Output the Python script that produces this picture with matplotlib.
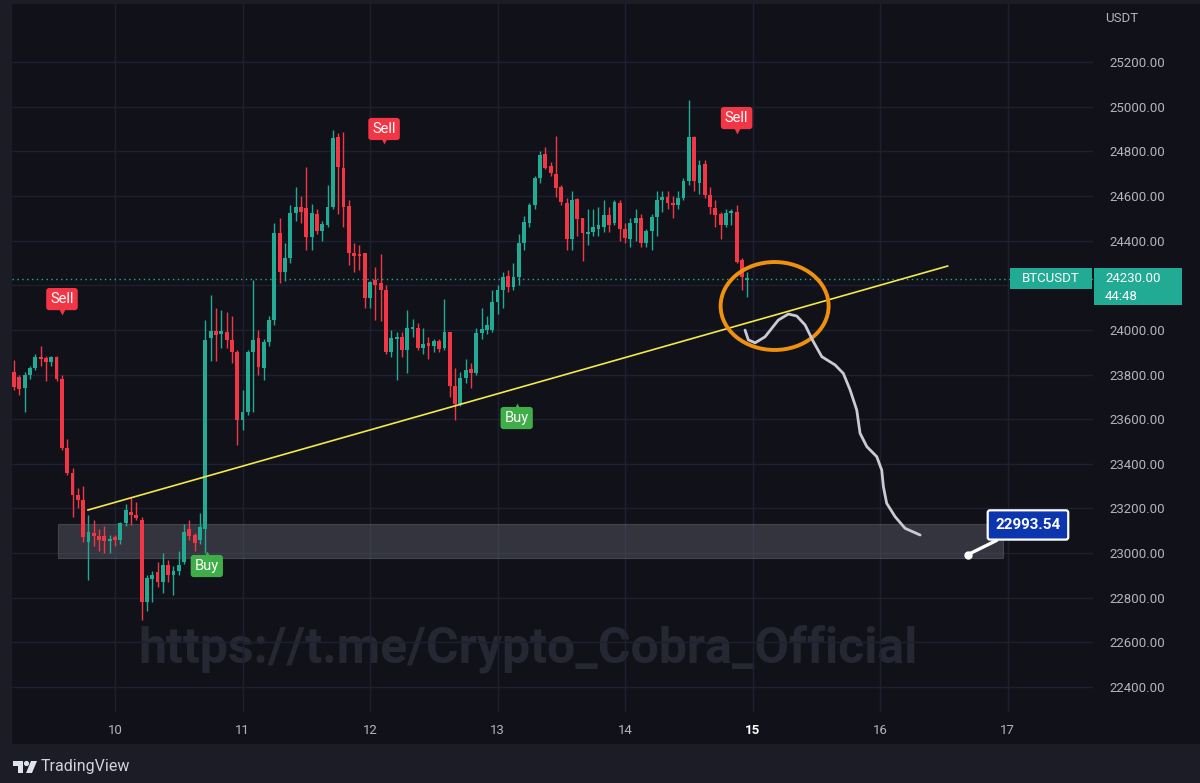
import numpy as np
import matplotlib.pyplot as plt
from matplotlib.patches import Ellipse, Rectangle, Polygon, Circle
from matplotlib.transforms import blended_transform_factory

plt.rcParams['font.family'] = ['Roboto', 'DejaVu Sans']

# hourly candles, 9th 05:00 .. 14th 23:00
opens = [23810, 23790, 23740, 23800, 23830, 23880, 23875, 23855, 23880, 23780,
         23470, 23360, 23260, 23240, 23050, 23090, 23075, 23075, 23055, 23070,
         23060, 23135, 23185, 23170, 23150, 22780, 22885, 22915, 22870, 22945,
         22900, 22920, 22960, 23110, 23080, 23060, 23110, 23965, 23995, 23980,
         23990, 23955, 23900, 23595, 23630, 23900, 23965, 23830, 23945, 24045,
         24435, 24260, 24320, 24525, 24550, 24545, 24415, 24520, 24445, 24470,
         24550, 24865, 24725, 24555, 24345, 24340, 24345, 24145, 24225, 24210,
         24180, 23900, 23960, 23970, 23910, 24005, 24010, 23920, 23940, 23930,
         23950, 23920, 23990, 23750, 23670, 23785, 23825, 23805, 23985, 24000,
         24000, 24125, 24180, 24240, 24190, 24235, 24390, 24480, 24560, 24680,
         24790, 24735, 24700, 24640, 24570, 24405, 24585, 24500, 24430, 24440,
         24450, 24460, 24515, 24480, 24570, 24450, 24405, 24480, 24500, 24390,
         24445, 24505, 24580, 24595, 24570, 24560, 24590, 24665, 24865, 24660,
         24745, 24605, 24545, 24520, 24470, 24525, 24530, 24315, 24224.90]
highs = [23865, 23800, 23810, 23840, 23890, 23930, 23885, 23885, 23885, 23800,
         23510, 23380, 23290, 23300, 23170, 23150, 23110, 23120, 23080, 23080,
         23140, 23220, 23250, 23230, 23160, 22900, 22920, 22960, 23000, 22970,
         22940, 23010, 23130, 23150, 23090, 23180, 24045, 24155, 24100, 24090,
         24080, 24060, 23910, 23730, 23910, 24225, 24000, 23960, 24060, 24480,
         24500, 24390, 24560, 24640, 24600, 24730, 24565, 24540, 24490, 24650,
         24895, 24880, 24885, 24580, 24390, 24380, 24345, 24220, 24280, 24340,
         24200, 24000, 23990, 23990, 24090, 24050, 24030, 24010, 23970, 23960,
         23960, 24140, 23990, 23830, 23810, 23870, 23850, 24010, 24100, 24060,
         24180, 24200, 24260, 24270, 24300, 24430, 24510, 24570, 24690, 24800,
         24820, 24750, 24870, 24650, 24590, 24620, 24590, 24500, 24540, 24540,
         24550, 24580, 24550, 24580, 24580, 24480, 24500, 24540, 24520, 24450,
         24520, 24620, 24620, 24620, 24600, 24620, 24680, 25030, 24870, 24760,
         24760, 24640, 24580, 24530, 24540, 24540, 24560, 24320, 24260.37]
lows = [23730, 23710, 23630, 23780, 23820, 23840, 23770, 23840, 23770, 23460,
        23350, 23160, 23200, 23050, 22880, 23030, 23010, 23000, 23000, 23030,
        23040, 23120, 23125, 23150, 22700, 22740, 22780, 22850, 22820, 22870,
        22810, 22900, 22950, 23060, 23010, 23040, 23000, 23860, 23860, 23920,
        23920, 23850, 23485, 23550, 23620, 23630, 23800, 23775, 23930, 24020,
        24210, 24220, 24300, 24490, 24480, 24360, 24360, 24430, 24400, 24460,
        24540, 24520, 24460, 24290, 24260, 24270, 24100, 24100, 24045, 24040,
        23890, 23880, 23775, 23880, 23805, 23970, 23910, 23890, 23870, 23900,
        23900, 23910, 23700, 23595, 23660, 23760, 23740, 23800, 23960, 23980,
        23990, 24070, 24100, 24170, 24180, 24200, 24360, 24460, 24540, 24660,
        24720, 24690, 24595, 24560, 24360, 24360, 24420, 24310, 24380, 24420,
        24420, 24440, 24440, 24470, 24400, 24390, 24370, 24400, 24370, 24370,
        24360, 24420, 24530, 24540, 24500, 24540, 24580, 24650, 24620, 24610,
        24590, 24520, 24460, 24405, 24460, 24470, 24300, 24180, 24149.35]
closes = [23745, 23735, 23800, 23830, 23880, 23870, 23855, 23880, 23780, 23470,
          23360, 23260, 23240, 23070, 23095, 23075, 23060, 23055, 23065, 23060,
          23135, 23195, 23170, 23155, 22780, 22890, 22900, 22870, 22945, 22900,
          22920, 22945, 23095, 23075, 23045, 23115, 23955, 23995, 23975, 23995,
          23955, 23900, 23595, 23630, 23900, 23955, 23835, 23945, 24045, 24435,
          24260, 24320, 24525, 24550, 24530, 24415, 24525, 24445, 24475, 24550,
          24860, 24730, 24550, 24345, 24330, 24330, 24145, 24215, 24200, 24180,
          23900, 23965, 23970, 23910, 24010, 24015, 23920, 23935, 23930, 23950,
          23915, 23990, 23750, 23670, 23785, 23820, 23805, 23985, 24005, 24020,
          24125, 24180, 24235, 24190, 24235, 24390, 24485, 24560, 24680, 24785,
          24725, 24705, 24635, 24575, 24405, 24580, 24495, 24435, 24440, 24460,
          24470, 24515, 24470, 24575, 24450, 24410, 24480, 24500, 24390, 24445,
          24505, 24580, 24595, 24570, 24560, 24590, 24665, 24865, 24665, 24740,
          24605, 24550, 24515, 24470, 24525, 24530, 24305, 24235, 24230.00]

first_hour = 9 + 5 / 24
last_price = 24230.00
price_ticks = list(range(22400, 25201, 200))
day_ticks = [10, 11, 12, 13, 14, 15, 16, 17]

# signals (label, day, price)
signals = [("Sell", 9.584, 24138), ("Sell", 12.11, 24900), ("Sell", 14.875, 24949),
           ("Buy", 10.72, 22942), ("Buy", 13.15, 23605)]

# drawings
zone_days = [9.553, 16.965]
zone_prices = [22978, 23130]
trend_days = [9.788, 16.53]
trend_prices = [23193, 24286]
circle_center = (15.173, 24107)
circle_size = (0.847, 394)
path_days = [14.941, 14.967, 15.020, 15.098, 15.202, 15.281, 15.347, 15.412, 15.477,
             15.543, 15.647, 15.712, 15.765, 15.817, 15.843, 15.896, 15.974, 16.013,
             16.026, 16.052, 16.118, 16.196, 16.314]
path_prices = [23999, 23955, 23942, 23969, 24044, 24071, 24062, 24022, 23947,
               23880, 23843, 23805, 23731, 23641, 23537, 23477, 23432, 23372,
               23298, 23223, 23163, 23111, 23081]
target_price = 22993.54
target_day = 16.69

UP = '#22ab94'
DOWN = '#f23645'
BG = '#111219'
GRID = '#1d2030'
TXT = '#b2b5be'

W, H = 1200, 783
fig = plt.figure(figsize=(12, 7.83), dpi=100, facecolor='#1b1c25')

# pixel overlay for frame, header and logo
ov = fig.add_axes([0, 0, 1, 1], zorder=-5)
ov.set_xlim(0, W)
ov.set_ylim(H, 0)
ov.axis('off')
ov.add_patch(Rectangle((12, 4), W - 12, 740, color=BG, lw=0))

ax = fig.add_axes([12 / W, 1 - 712 / H, (1093 - 12) / W, (712 - 4) / H])
ax.set_facecolor(BG)
ax.set_xlim(9.192, 17.67)
ax.set_ylim(22288, 25460)
for s in ax.spines.values():
    s.set_visible(False)

ax.set_yticks(price_ticks)
ax.set_yticklabels(['' if p == 24200 else f'{p:.2f}' for p in price_ticks])
ax.yaxis.tick_right()
ax.tick_params(axis='y', length=0, pad=12, labelcolor=TXT, labelsize=9.5)
ax.set_xticks(day_ticks)
ax.set_xticklabels([str(d) for d in day_ticks])
ax.tick_params(axis='x', length=0, pad=9, labelcolor=TXT, labelsize=9.5)
for lab in ax.get_xticklabels():
    if lab.get_text() == '15':
        lab.set_color('white')
        lab.set_fontweight('bold')
ax.grid(True, color=GRID, lw=1)
ax.set_axisbelow(True)

# watermark
ax.text(0.477, 0.090, 'https://t.me/Crypto_Cobra_Official', transform=ax.transAxes,
        ha='center', va='center', fontsize=36, fontweight='bold', color='#252732', zorder=0)

# zone
ax.add_patch(Rectangle((zone_days[0], zone_prices[0]), zone_days[1] - zone_days[0],
                       zone_prices[1] - zone_prices[0], fc='#5d5f6b', alpha=0.45,
                       ec='#6b6d78', lw=0.8, zorder=1))

# candles
t = first_hour + np.arange(len(opens)) / 24
o = np.array(opens)
c = np.array(closes)
cols = [UP if cc >= oo else DOWN for oo, cc in zip(o, c)]
ax.vlines(t, lows, highs, colors=cols, lw=1, zorder=3)
body = np.maximum(np.abs(c - o), 6)
ax.bar(t, body, bottom=np.minimum(o, c), width=0.72 / 24, color=cols, lw=0, zorder=4)

# last price line
ax.axhline(last_price, color=UP, ls=(0, (1, 2.5)), lw=1, zorder=2)

# trend line
ax.plot(trend_days, trend_prices, color='#f4e84a', lw=1.2, zorder=5)

# circle
ax.add_patch(Ellipse(circle_center, circle_size[0], circle_size[1], fill=False,
                     ec='#f0900f', lw=2.8, zorder=6))

# projected path
ax.plot(path_days, path_prices, color='#c9cad2', lw=2, zorder=6,
        solid_capstyle='round', solid_joinstyle='round')

# signals
for lab, d, p in signals:
    fc = DOWN if lab == 'Sell' else '#3fae49'
    ax.text(d, p, lab, ha='center', va='center', color='white', fontsize=10.5, zorder=7,
            bbox=dict(boxstyle='round,pad=0.28,rounding_size=0.2', fc=fc, ec='none'))
    if lab == 'Sell':
        ax.plot(d, p - 56, marker='v', ms=5, color=fc, mec='none', zorder=7)
    else:
        ax.plot(d, p + 56, marker='^', ms=5, color=fc, mec='none', zorder=7)

# target label
ax.plot(target_day, target_price, 'o', ms=5, color='white', zorder=8)
ax.annotate(f'{target_price:.2f}', xy=(target_day, target_price), xytext=(17.16, 23126),
            ha='center', va='center', color='white', fontsize=11, fontweight='bold',
            zorder=8, annotation_clip=False,
            bbox=dict(boxstyle='round,pad=0.5,rounding_size=0.15', fc='#0c35b0', ec='white', lw=1.6),
            arrowprops=dict(arrowstyle='-', color='white', lw=2.4, shrinkA=0, shrinkB=0))

# price tags on the axis
bt = blended_transform_factory(fig.transFigure, ax.transData)
ax.add_patch(Rectangle((1010 / W, 24183), 82 / W, 94, transform=bt, fc=UP, lw=0,
                       clip_on=False, zorder=9))
ax.text(1051 / W, 24230, 'BTCUSDT', transform=bt, ha='center', va='center',
        color='white', fontsize=9.5, zorder=10, clip_on=False)
ax.add_patch(Rectangle((1094 / W, 24111), 88 / W, 166, transform=bt, fc=UP, lw=0,
                       clip_on=False, zorder=9))
ax.text(1105 / W, 24232, f'{last_price:.2f}', transform=bt, ha='left', va='center',
        color='white', fontsize=9.5, zorder=10, clip_on=False)
ax.text(1105 / W, 24148, '44:48', transform=bt, ha='left', va='center',
        color='white', fontsize=9.5, zorder=10, clip_on=False)

# header
hy = 23
ov.text(20, hy, 'BITCOIN / TETHER, 1h, COINEX', color='#c9cbd3', fontsize=9.5, va='center')
for key, val, kx in [('O', '24224.90', 212), ('H', '24260.37', 287),
                     ('L', '24149.35', 362), ('C', '24230.00', 430)]:
    ov.text(kx, hy, key, color='#c9cbd3', fontsize=9.5, va='center')
    ov.text(kx + 10, hy, val, color=UP, fontsize=9.5, va='center')
ov.text(1105, 18, 'USDT', color=TXT, fontsize=9.5, va='center')

# TradingView logo
ov.add_patch(Polygon([(13, 761), (23, 761), (23, 773), (17.5, 773), (17.5, 766), (13, 766)],
                     color='#e0e3eb', lw=0))
ov.add_patch(Circle((26.5, 763.5), 2.6, color='#e0e3eb', lw=0))
ov.add_patch(Polygon([(31, 761), (37, 761), (32, 773), (26, 773)], color='#e0e3eb', lw=0))
ov.text(41, 767, 'TradingView', color='#d1d4dc', fontsize=11.5, va='center')

fig.savefig('out.png', dpi=100, facecolor=fig.get_facecolor())
